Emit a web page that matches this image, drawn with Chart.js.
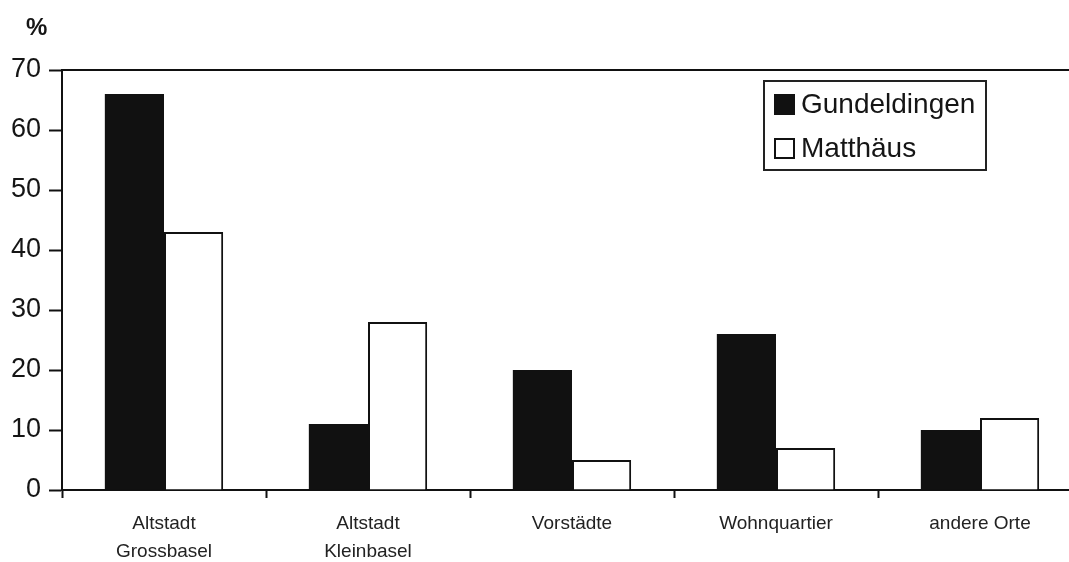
<!DOCTYPE html>
<html>
<head>
  <title>Gundeldingen / Matthäus</title>
  <script src="https://cdn.jsdelivr.net/npm/chart.js"></script>
  <style>
    body { margin: 0; background: #fff; overflow: hidden; font-family: "Liberation Sans", Arial, sans-serif; color: #151515; }
    #wrap { position: relative; width: 1069px; height: 562px; overflow: hidden; }
    #unit { position: absolute; left: 26px; top: 13px; font-size: 24px; font-weight: bold; }
    #legend { position: absolute; left: 763px; top: 80px; width: 220px; height: 87px; border: 2px solid #222; }
    .item { display: flex; align-items: center; height: 44px; padding-left: 9px; font-size: 28px; }
    .sw { width: 17px; height: 17px; margin-right: 6px; border: 2px solid #111; box-sizing: content-box; }
  </style>
</head>
<body>
  <div id="wrap">
    <canvas id="chart" width="1082" height="562"></canvas>
    <div id="unit">%</div>
    <div id="legend"></div>
  </div>

  <script>
    // data
    const categories = [['Altstadt', 'Grossbasel'], ['Altstadt', 'Kleinbasel'], 'Vorstädte', 'Wohnquartier', 'andere Orte'];
    const seriesNames = ['Gundeldingen', 'Matthäus'];
    const gundeldingen = [66, 11, 20, 26, 10];
    const matthaeus = [43, 28, 5, 7, 12];
    const yTicks = [0, 10, 20, 30, 40, 50, 60, 70];

    const ink = '#111';
    const fills = [ink, '#fff'];

    // legend box
    const legend = document.getElementById('legend');
    seriesNames.forEach((name, i) => {
      const row = document.createElement('div');
      row.className = 'item';
      row.innerHTML = `<span class="sw" style="background:${fills[i]}"></span>${name}`;
      legend.appendChild(row);
    });

    new Chart(document.getElementById('chart'), {
      type: 'bar',
      data: {
        labels: categories,
        datasets: [
          { label: seriesNames[0], data: gundeldingen, backgroundColor: ink, borderColor: ink, borderWidth: 0 },
          { label: seriesNames[1], data: matthaeus, backgroundColor: '#fff', borderColor: ink, borderWidth: 2 }
        ]
      },
      options: {
        responsive: false,
        devicePixelRatio: 1,
        animation: false,
        categoryPercentage: 0.58,
        barPercentage: 1.0,
        layout: { padding: { top: 70, right: 0, left: 0, bottom: 0 } },
        plugins: { legend: { display: false }, tooltip: { enabled: false } },
        scales: {
          x: {
            grid: { drawOnChartArea: false, offset: true, tickLength: 8, tickWidth: 2, tickColor: ink },
            border: { display: true, color: ink, width: 2 },
            ticks: { color: '#222', font: { family: 'Liberation Sans', size: 19, lineHeight: 1.47 }, padding: 12, maxRotation: 0 },
            afterFit: s => { s.height = 72; }
          },
          x2: {
            position: 'top',
            labels: categories,
            grid: { display: false },
            border: { display: true, color: ink, width: 2 },
            ticks: { display: false },
            afterFit: s => { s.height = 0; }
          },
          y: {
            min: 0,
            max: 70,
            afterBuildTicks: s => { s.ticks = yTicks.map(v => ({ value: v })); },
            grid: { drawOnChartArea: false, tickLength: 13, tickWidth: 2, tickColor: ink },
            border: { display: true, color: ink, width: 2 },
            ticks: { color: '#151515', font: { family: 'Liberation Sans', size: 27 }, padding: 8 },
            afterFit: s => { s.width = 62; }
          }
        }
      }
    });
  </script>
</body>
</html>
